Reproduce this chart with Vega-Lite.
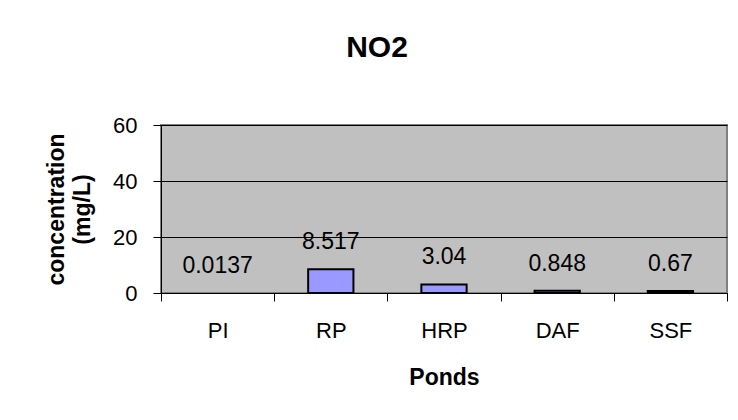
{
  "$schema": "https://vega.github.io/schema/vega-lite/v6.json",
  "width": 566,
  "height": 168,
  "autosize": {"type": "none"},
  "padding": {"left": 161, "top": 125, "right": 11, "bottom": 127},
  "background": "white",
  "config": {
    "font": "Liberation Sans",
    "view": {"fill": "#C0C0C0", "stroke": "#808080", "strokeWidth": 2}
  },
  "title": {
    "text": "NO2",
    "font": "Liberation Sans",
    "fontSize": 30,
    "fontWeight": "bold",
    "color": "black",
    "anchor": "middle",
    "frame": "group",
    "dx": -67,
    "baseline": "alphabetic",
    "offset": 27
  },
  "data": {
    "values": [
      {"pond": "PI", "value": 0.0137},
      {"pond": "RP", "value": 8.517},
      {"pond": "HRP", "value": 3.04},
      {"pond": "DAF", "value": 0.848},
      {"pond": "SSF", "value": 0.67}
    ]
  },
  "encoding": {
    "x": {
      "field": "pond",
      "type": "nominal",
      "sort": null,
      "scale": {"paddingInner": 0, "paddingOuter": 0},
      "axis": {
        "title": "Ponds",
        "titleFontSize": 23,
        "titleFontWeight": "bold",
        "titleColor": "black",
        "titleBaseline": "alphabetic",
        "titleY": 91,
        "labelFontSize": 22,
        "labelColor": "black",
        "labelAngle": 0,
        "labelBaseline": "alphabetic",
        "labelPadding": 36,
        "tickBand": "extent",
        "tickSize": 8,
        "tickColor": "black",
        "domainColor": "black",
        "grid": false
      }
    },
    "y": {
      "field": "value",
      "type": "quantitative",
      "scale": {"domain": [0, 60]},
      "axis": {
        "title": ["concentration", "(mg/L)"],
        "titleFontSize": 23,
        "titleFontWeight": "bold",
        "titleColor": "black",
        "titleLineHeight": 26,
        "titleAngle": -90,
        "titleAlign": "center",
        "titleBaseline": "alphabetic",
        "titleX": -98,
        "titleY": 84,
        "values": [0, 20, 40, 60],
        "grid": true,
        "gridColor": "black",
        "gridWidth": 1,
        "domainColor": "black",
        "tickColor": "black",
        "tickSize": 8,
        "labelFontSize": 22,
        "labelColor": "black",
        "labelPadding": 16
      }
    }
  },
  "layer": [
    {
      "mark": {"type": "bar", "width": {"band": 0.4}, "fill": "#9999FF", "stroke": "black", "strokeWidth": 2},
      "encoding": {
        "strokeOpacity": {"condition": {"test": "datum.value < 0.1", "value": 0}, "value": 1}
      }
    },
    {
      "mark": {"type": "text", "fontSize": 23, "baseline": "alphabetic", "dy": -20, "color": "black"},
      "encoding": {
        "text": {"field": "value", "type": "nominal"}
      }
    }
  ]
}
